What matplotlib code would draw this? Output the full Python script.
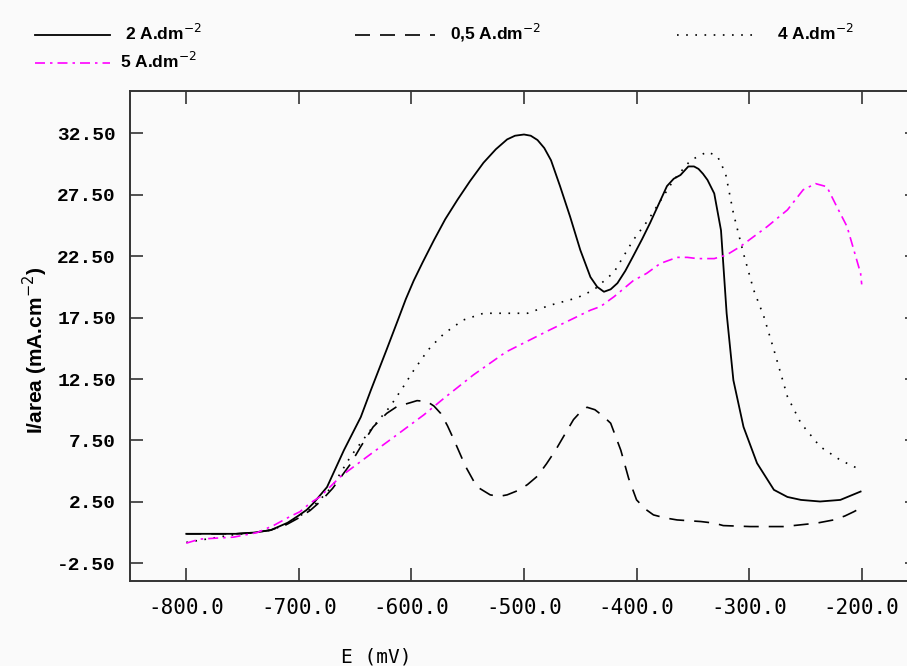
import numpy as np
import matplotlib.pyplot as plt
from matplotlib.lines import Line2D

# ---------------------------
# data (E in mV, I/area in mA.cm-2)
# ---------------------------
e_2A = [-800, -780, -756, -740, -725, -710, -700, -693, -687, -675, -660, -645, -636, -622,
        -612, -605, -598, -590, -580, -570, -559, -548, -536, -525, -515, -508, -500, -494, -488,
        -482, -476, -468, -459, -450, -441, -435, -429, -423, -417, -410, -403, -395, -388,
        -380, -373, -367, -361, -354, -349, -345, -341, -337, -331, -325, -320, -314, -305,
        -293, -278, -266, -254, -237, -219, -201]
i_2A = [-0.1, -0.1, -0.1, 0.0, 0.2, 0.8, 1.4, 1.85, 2.4, 3.7, 6.7, 9.4, 11.6, 14.9,
        17.3, 19.0, 20.5, 22.0, 23.8, 25.5, 27.1, 28.6, 30.1, 31.2, 32.0, 32.3, 32.4, 32.3, 31.95,
        31.3, 30.3, 28.2, 25.7, 23.0, 20.8, 20.0, 19.6, 19.8, 20.3, 21.3, 22.5, 23.9, 25.2,
        26.8, 28.2, 28.8, 29.1, 29.8, 29.8, 29.6, 29.2, 28.7, 27.6, 24.6, 17.85, 12.4, 8.6,
        5.65, 3.48, 2.9, 2.66, 2.53, 2.66, 3.34]

e_05A = [-800, -780, -756, -740, -725, -710, -700, -690, -680, -670, -654, -645, -634, -622,
         -613, -600, -595, -586, -580, -574, -568, -562, -552, -542, -530, -522, -515, -506,
         -497, -488, -480, -472, -465, -456, -450, -444, -437, -430, -423, -414, -407, -400,
         -392, -385, -375, -364, -343, -331, -323, -299, -269, -240, -225, -215, -207, -201]
i_05A = [-0.1, -0.1, -0.1, 0.0, 0.2, 0.7, 1.2, 1.8, 2.6, 3.6, 5.6, 7.0, 8.6, 9.7,
         10.25, 10.6, 10.74, 10.66, 10.3, 9.7, 8.7, 7.5, 5.4, 3.74, 3.07, 2.95, 3.07, 3.4,
         3.9, 4.6, 5.6, 6.7, 7.8, 9.2, 9.8, 10.2, 10.0, 9.5, 8.9, 6.7, 4.4, 2.66,
         1.9, 1.44, 1.2, 1.03, 0.9, 0.77, 0.57, 0.49, 0.49, 0.77, 1.03, 1.35, 1.7, 2.0]

e_4A = [-800, -780, -760, -740, -725, -710, -700, -690, -680, -670, -654, -636, -619, -607,
        -598, -588, -583, -571, -554, -536, -515, -497, -477, -453, -438, -420, -403, -390,
        -367, -352, -337, -328, -321, -314, -305, -296, -287, -278, -266, -254, -237, -219,
        -204]
i_4A = [-0.8, -0.5, -0.2, 0.0, 0.2, 0.7, 1.3, 1.9, 2.8, 3.8, 6.2, 8.4, 10.25, 11.9,
        13.2, 14.5, 15.1, 16.2, 17.3, 17.85, 17.85, 17.85, 18.5, 19.1, 19.75, 21.2, 23.8, 25.4,
        28.7, 30.3, 31.0, 30.6, 29.25, 26.0, 22.7, 19.75, 17.6, 14.87, 11.07, 8.9, 7.0, 5.9,
        5.24]

e_5A = [-800, -788, -758, -737, -722, -708, -699, -690, -681, -663, -639, -613, -589, -571,
        -545, -516, -477, -441, -432, -420, -403, -391, -379, -364, -355, -346, -331, -320,
        -308, -284, -266, -252, -241, -231, -222, -213, -207, -201, -200]
i_5A = [-0.86, -0.53, -0.37, 0.0, 0.6, 1.3, 1.7, 2.4, 2.93, 4.56, 6.2, 7.95, 9.58, 10.94,
        12.83, 14.7, 16.5, 18.1, 18.4, 19.2, 20.5, 21.1, 21.9, 22.4, 22.4, 22.3, 22.3, 22.6,
        23.27, 24.9, 26.26, 27.9, 28.4, 28.15, 26.5, 24.9, 23.0, 21.1, 20.2]

x_ticks = [-800, -700, -600, -500, -400, -300, -200]
y_ticks = [-2.5, 2.5, 7.5, 12.5, 17.5, 22.5, 27.5, 32.5]

# ---------------------------
# figure
# ---------------------------
W, H = 907, 666
bg = '#fafafa'
fig = plt.figure(figsize=(W / 100, H / 100), dpi=100, facecolor=bg)
# axes box in pixels: left 130, right 918 (runs off the image), top 91, bottom 581
ax = fig.add_axes([130 / W, 1 - 581 / H, (918 - 130) / W, (581 - 91) / H], facecolor=bg)

sty_2A = dict(color='black', lw=1.3, ls='-')
sty_05A = dict(color='black', lw=1.2, ls=(0, (9, 6)))
sty_4A = dict(color='black', lw=1.2, ls=(0, (1, 4.5)))
sty_5A = dict(color='#ff00ff', lw=1.2, ls=(0, (6, 3, 1.5, 3)))

ax.plot(e_2A, i_2A, **sty_2A)
ax.plot(e_05A, i_05A, **sty_05A)
ax.plot(e_4A, i_4A, **sty_4A)
ax.plot(e_5A, i_5A, **sty_5A)

ax.set_xlim(-850, -150)
ax.set_ylim(-3.94, 35.94)
ax.set_xticks(x_ticks)
ax.set_xticklabels([f'{v:.1f}' for v in x_ticks], family='DejaVu Sans Mono', fontsize=15)
ax.set_yticks(y_ticks)
ax.set_yticklabels([f'{v:.2f}' for v in y_ticks], family='Liberation Mono',
                   fontsize=14, fontweight='bold')
ax.tick_params(direction='in', length=9.5, width=1.2, color='#333333',
               top=True, right=True, pad=10)
ax.tick_params(axis='x', pad=12)
for s in ax.spines.values():
    s.set_color('#333333')
    s.set_linewidth(1.4)

fig.text(376 / W, 1 - 657 / H, 'E (mV)', ha='center', va='center',
         family='DejaVu Sans Mono', fontsize=14)
fig.text(35 / W, 1 - 350 / H, 'I/area (mA.cm$^{-2}$)', rotation=90, ha='center', va='center',
         family='Liberation Sans', fontsize=15, fontweight='bold')

# legend drawn above the axes, as in the original
leg_font = dict(family=['Liberation Sans Narrow', 'Liberation Sans'], fontsize=12.5,
                fontweight='bold', va='center', ha='left')
items = [(35, 110, 35, 125, '2 A.dm$^{-2}$', sty_2A),
         (355, 435, 35, 450, '0,5 A.dm$^{-2}$', sty_05A),
         (677, 755, 35, 777, '4 A.dm$^{-2}$', sty_4A),
         (35, 110, 63, 120, '5 A.dm$^{-2}$', sty_5A)]
for x0, x1, y, xt, label, sty in items:
    fig.add_artist(Line2D([x0 / W, x1 / W], [1 - y / H, 1 - y / H],
                          transform=fig.transFigure, **sty))
    fig.text(xt / W, 1 - (y - 2) / H, label, **leg_font)

fig.savefig('out.png', dpi=100, facecolor=bg)
